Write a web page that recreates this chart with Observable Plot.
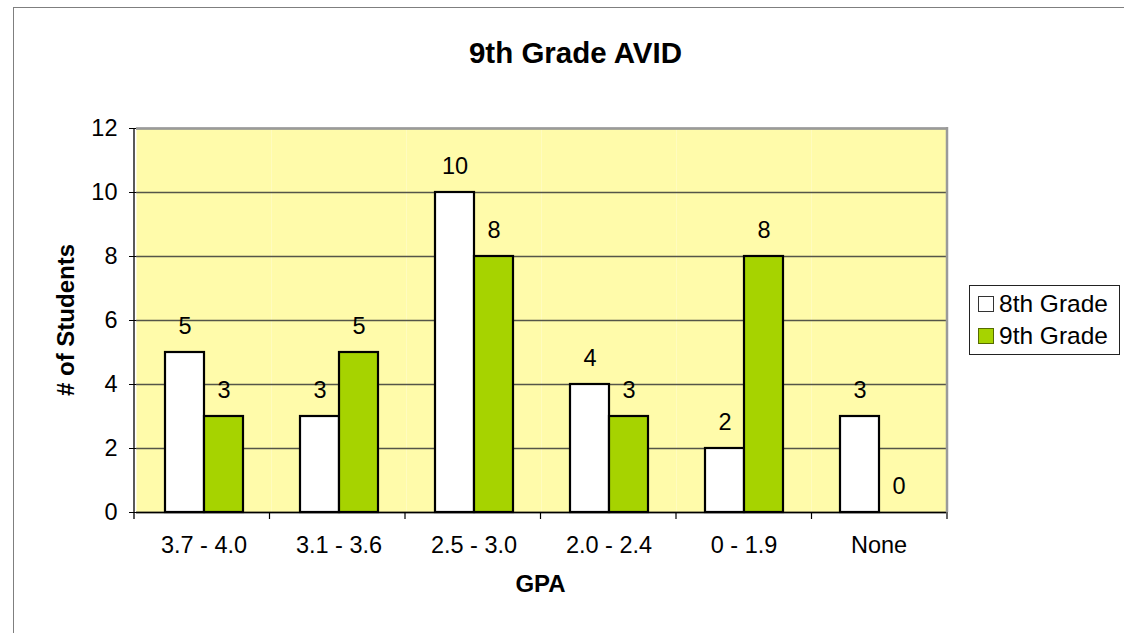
<!DOCTYPE html>
<html>
<head>
<meta charset="utf-8">
<script src="https://cdn.jsdelivr.net/npm/d3@7"></script>
<script src="https://cdn.jsdelivr.net/npm/@observablehq/plot@0.6"></script>
<style>
  html, body { margin: 0; padding: 0; background: #fff; }
  #wrap { position: relative; width: 1124px; height: 633px; overflow: hidden; font-family: "Liberation Sans", Arial, sans-serif; }
  #border { position: absolute; left: 13px; top: 7px; width: 1300px; height: 800px; border: 1px solid #7f7f7f; box-sizing: border-box; }
  #title { position: absolute; left: 0; width: 1151px; top: 38px; text-align: center; font-weight: bold; font-size: 29.5px; line-height: 29px; color: #000; }
  #chart { position: absolute; left: 0; top: 0; }
  #legend { position: absolute; left: 969px; top: 285px; width: 151px; height: 70px; border: 1px solid #222; box-sizing: border-box; background: #fff; }
  .item { position: absolute; left: 8px; height: 24px; display: flex; align-items: center; font-size: 24.5px; color: #000; }
  .sw { width: 14px; height: 14px; border: 1px solid #333; margin-right: 5px; box-sizing: content-box; }
</style>
</head>
<body>
<div id="wrap">
  <div id="border"></div>
  <div id="title">9th Grade AVID</div>
  <div id="chart"></div>
  <div id="legend"></div>
</div>
<script>
const gpaBands = ["3.7 - 4.0", "3.1 - 3.6", "2.5 - 3.0", "2.0 - 2.4", "0 - 1.9", "None"];
const grades = ["8th Grade", "9th Grade"];
const grade8 = [5, 3, 10, 4, 2, 3];
const grade9 = [3, 5, 8, 3, 8, 0];
const yTicks = [0, 2, 4, 6, 8, 10, 12];
const colors = ["#ffffff", "#a6d300"];

const data = gpaBands.flatMap((g, i) => [
  {gpa: g, grade: grades[0], n: grade8[i]},
  {gpa: g, grade: grades[1], n: grade9[i]}
]);

const chart = Plot.plot({
  width: 1124,
  height: 633,
  marginLeft: 134,
  marginRight: 177,
  marginTop: 128,
  marginBottom: 121,
  style: {fontFamily: "'Liberation Sans', Arial, sans-serif", fontSize: "23.5px", color: "#000", background: "transparent", overflow: "visible"},
  fx: {domain: gpaBands, padding: 0, label: null},
  x: {domain: grades, paddingInner: 0, paddingOuter: 0.72, axis: null},
  y: {domain: [0, 12], label: null},
  color: {domain: grades, range: colors},
  marks: [
    Plot.frame({fill: "#fffbaa", stroke: null}),
    Plot.ruleY(yTicks, {stroke: "#555548", strokeOpacity: 1, strokeWidth: 1.4}),
    Plot.ruleY([12], {stroke: "#9a9a9a", strokeWidth: 2.5}),
    Plot.barY(data, {fx: "gpa", x: "grade", y: "n", fill: "grade", stroke: "#000", strokeWidth: 2.2}),
    Plot.ruleY([0], {stroke: "#000", strokeWidth: 1.3}),
    Plot.text(data, {fx: "gpa", x: "grade", y: "n", text: "n", dy: -26, fontSize: 23.5, fill: "#000"}),
    Plot.axisY({ticks: yTicks, tickSize: 7, tickPadding: 12, fontSize: 23.5, label: null, stroke: "#000"}),
    Plot.axisFx({anchor: "bottom", tickSize: 0, tickPadding: 24, fontSize: 23.5, label: null})
  ]
});

document.getElementById("chart").appendChild(chart);

// decorations tied to the chart's own scales
const svg = d3.select(chart);
const fx = chart.scale("fx");
const ys = chart.scale("y");
let x0 = 134, x1 = 947;
if (fx && fx.range) { x0 = fx.range[0]; x1 = fx.range[1]; }
const step = (x1 - x0) / gpaBands.length;
const yTop = ys.apply(12), yBot = ys.apply(0);

// right border of plot area
svg.append("line").attr("x1", x1).attr("x2", x1).attr("y1", yTop - 1).attr("y2", yBot)
  .attr("stroke", "#9a9a9a").attr("stroke-width", 2.5);
// left axis line
svg.append("line").attr("x1", x0).attr("x2", x0).attr("y1", yTop).attr("y2", yBot + 7)
  .attr("stroke", "#000").attr("stroke-width", 1.3);
// x tick marks at category boundaries
for (let i = 1; i <= gpaBands.length; i++) {
  const xb = x0 + i * step;
  svg.append("line").attr("x1", xb).attr("x2", xb).attr("y1", yBot).attr("y2", yBot + 7)
    .attr("stroke", "#000").attr("stroke-width", 1.2);
}
// axis titles
svg.append("text").attr("transform", `translate(65,${(yTop + yBot) / 2}) rotate(-90)`)
  .attr("text-anchor", "middle").attr("dominant-baseline", "central")
  .attr("font-weight", "bold").attr("font-size", 24)
  .attr("font-family", "'Liberation Sans', Arial, sans-serif").text("# of Students");
svg.append("text").attr("x", (x0 + x1) / 2).attr("y", yBot + 71)
  .attr("text-anchor", "middle").attr("dominant-baseline", "central")
  .attr("font-weight", "bold").attr("font-size", 24)
  .attr("font-family", "'Liberation Sans', Arial, sans-serif").text("GPA");

// legend
const legend = document.getElementById("legend");
grades.forEach((g, i) => {
  const item = document.createElement("div");
  item.className = "item";
  item.style.top = (6 + i * 32) + "px";
  const sw = document.createElement("div");
  sw.className = "sw";
  sw.style.background = colors[i];
  if (i === 1) sw.style.borderColor = "#556b00";
  const t = document.createElement("span");
  t.textContent = g;
  item.appendChild(sw);
  item.appendChild(t);
  legend.appendChild(item);
});
</script>
</body>
</html>
